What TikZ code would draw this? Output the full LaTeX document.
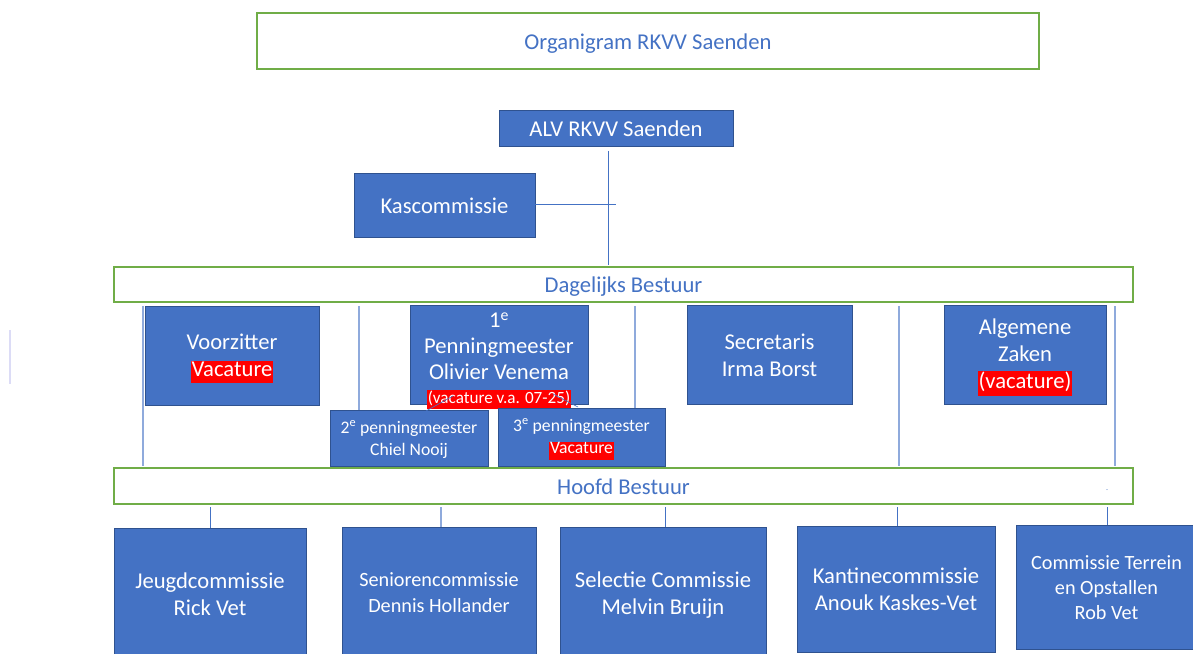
\documentclass[tikz,border=0pt]{standalone}
\usepackage{fontspec}
\setmainfont{Carlito}
\definecolor{bfill}{HTML}{4472C4}
\definecolor{bdraw}{HTML}{2F528F}
\definecolor{gdraw}{HTML}{70AD47}
\definecolor{lline}{HTML}{8FAADC}
\definecolor{faint}{HTML}{DCDCF6}
\newcommand{\vacbox}[1]{{\setlength{\fboxsep}{0.6bp}\colorbox{red}{\rule[-0.3em]{0pt}{0.9em}#1}}}
\newcommand{\topfix}{\rule{0pt}{0.96em}}
\newcommand{\botfix}{\rule[-0.22em]{0pt}{0pt}}
\begin{document}
\begin{tikzpicture}[x=1bp,y=-1bp,
  bluebox/.style={draw=bdraw, line width=0.8bp, fill=bfill, text=white, align=center,
    inner sep=0pt, outer sep=0pt, font=\fontsize{22.7}{27}\selectfont},
  greenbox/.style={draw=gdraw, line width=1.6bp, fill=white, text=bfill, align=center,
    inner sep=0pt, outer sep=0pt, font=\fontsize{22.7}{27}\selectfont},
  smalltext/.style={font=\fontsize{17.7}{23}\selectfont},
  midtext/.style={font=\fontsize{20.3}{25.5}\selectfont},
  conn/.style={draw=bfill, line width=1bp},
  lconn/.style={draw=lline, line width=1.5bp},
  thinconn/.style={draw=bfill, line width=0.6bp}]
\fill[white] (0,0) rectangle (1193,654);
\useasboundingbox (0,0) rectangle (1193,654);

% header
\node[greenbox, minimum width=782bp, minimum height=56bp] (title) at (648,41) {\topfix Organigram RKVV Saenden\botfix};

% top level
\node[bluebox, minimum width=234bp, minimum height=36bp] (alv) at (616,128) {\topfix ALV RKVV Saenden\botfix};
\node[bluebox, minimum width=181bp, minimum height=64bp] (kas) at (444.5,205) {\topfix Kascommissie\botfix};

\node[greenbox, minimum width=1019bp, minimum height=35bp] (dag) at (623.5,284.5) {\topfix Dagelijks Bestuur\botfix};

% Dagelijks bestuur members
\node[bluebox, minimum width=174bp, minimum height=99bp] (voorz) at (232,355.5) {\topfix Voorzitter\\\vacbox{Vacature}};
\node[bluebox, minimum width=178bp, minimum height=99bp, inner ysep=-8bp, font=\fontsize{22.7}{26}\selectfont] (penn1) at (499,354.5)
  {\rule{0pt}{27.8bp}1\textsuperscript{e}\\Penningmeester\\Olivier Venema\\[-2bp]{\fontsize{17.2}{20}\selectfont\vacbox{(vacature v.a. 07-25)}}};
\node[bluebox, smalltext, minimum width=158bp, minimum height=56bp] (penn2) at (409,438)
  {\topfix 2\textsuperscript{e} penningmeester\\Chiel Nooij\botfix};
\node[bluebox, smalltext, minimum width=167bp, minimum height=58bp] (penn3) at (581.5,437)
  {\topfix 3\textsuperscript{e} penningmeester\\\vacbox{Vacature}};
\node[bluebox, minimum width=165bp, minimum height=99bp] (secr) at (769.5,354.5) {\topfix Secretaris\\Irma Borst\botfix};
\node[bluebox, minimum width=162bp, minimum height=99bp] (alg) at (1025,354.5) {\topfix Algemene\\Zaken\\\vacbox{(vacature)}};

\node[greenbox, minimum width=1019bp, minimum height=36bp] (hoofd) at (623.5,486) {\topfix Hoofd Bestuur\botfix};
\node[text=bfill, inner sep=0pt, font=\fontsize{8}{8}\selectfont] (dot) at (1107,490) {.};

% commissions
\node[bluebox, minimum width=192bp, minimum height=132bp] (jeugd) at (210,594) {\topfix Jeugdcommissie\\Rick Vet\botfix};
\node[bluebox, midtext, minimum width=194bp, minimum height=130bp] (sen) at (439,592) {\topfix Seniorencommissie\\Dennis Hollander\botfix};
\node[bluebox, minimum width=206bp, minimum height=131bp] (sel) at (663,592.5) {\topfix Selectie Commissie\\Melvin Bruijn\botfix};
\node[bluebox, minimum width=198bp, minimum height=126bp] (kant) at (896,589) {\topfix Kantinecommissie\\Anouk Kaskes-Vet\botfix};
\node[bluebox, midtext, minimum width=181bp, minimum height=124bp] (terr) at (1106.5,587) {\topfix Commissie Terrein\\en Opstallen\\Rob Vet\botfix};

% connector x positions
\coordinate (xalv) at (608,0);
\coordinate (xkas) at (616,0);
\coordinate (xv1) at (143,0);
\coordinate (xv2) at (359,0);
\coordinate (xv3) at (635,0);
\coordinate (xv4) at (899,0);
\coordinate (xv5) at (1115,0);
\coordinate (xb1) at (210,0);
\coordinate (xb2) at (441,0);
\coordinate (xb3) at (665,0);
\coordinate (xb4) at (897,0);
\coordinate (xb5) at (1107,0);

% connectors
\draw[conn] ([yshift=-5bp]alv.south -| xalv) -- ([yshift=2bp]dag.north -| xalv);
\draw[conn] (kas.east) -- (kas.east -| xkas);

\draw[lconn] ([yshift=-4bp]dag.south -| xv1) -- ([yshift=2bp]hoofd.north -| xv1);
\draw[lconn] ([yshift=-4bp]dag.south -| xv2) -- (penn2.north -| xv2);
\draw[lconn] ([yshift=-4bp]dag.south -| xv3) -- (penn3.north -| xv3);
\draw[lconn] ([yshift=-4bp]dag.south -| xv4) -- ([yshift=2bp]hoofd.north -| xv4);
\draw[lconn] ([yshift=-4bp]dag.south -| xv5) -- ([yshift=2bp]hoofd.north -| xv5);

\coordinate (d1) at (426,411);
\coordinate (d2) at (453,396);
\coordinate (d3) at (553,394);
\coordinate (d4) at (578,407);
\draw[thinconn] (d1) -- (d2);
\draw[thinconn] (d3) -- (d4);

\draw[conn] ([yshift=-3bp]hoofd.south -| xb1) -- (jeugd.north -| xb1);
\draw[lconn] ([yshift=-3bp]hoofd.south -| xb2) -- (sen.north -| xb2);
\draw[conn] ([yshift=-3bp]hoofd.south -| xb3) -- (sel.north -| xb3);
\draw[conn] ([yshift=-3bp]hoofd.south -| xb4) -- (kant.north -| xb4);
\draw[conn] ([yshift=-3bp]hoofd.south -| xb5) -- (terr.north -| xb5);

% faint mark at left edge
\draw[faint, line width=2bp] (10,330) -- (10,384);
\end{tikzpicture}
\end{document}
